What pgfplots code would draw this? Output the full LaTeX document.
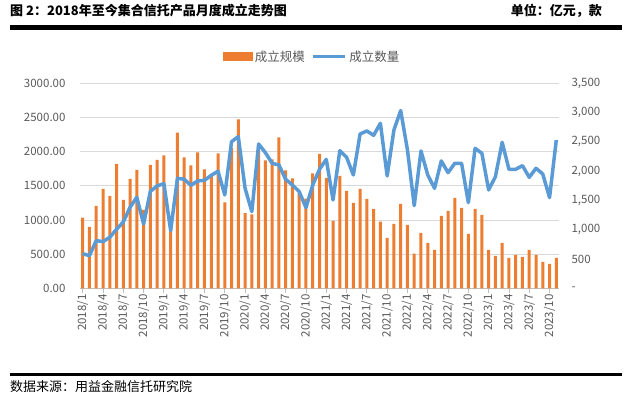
\documentclass[border=0pt]{standalone}
\usepackage{fontspec}
\setmainfont{Noto Sans CJK SC}
\usepackage{pgfplots}
\pgfplotsset{compat=1.18}
\usepackage{pgfplotstable}
\definecolor{barorange}{HTML}{ED7D31}
\definecolor{lineblue}{HTML}{5B9BD5}
\definecolor{txtgray}{HTML}{595959}
\definecolor{gridgray}{HTML}{D9D9D9}
\definecolor{axgray}{HTML}{BFBFBF}

\pgfplotstableread{
idx amt cnt
0 1034 590
1 898 558
2 1205 814
3 1454 797
4 1351 871
5 1820 1007
6 1293 1132
7 1600 1383
8 1732 1554
9 1146 1098
10 1805 1656
11 1878 1747
12 1945 1787
13 1060 985
14 2280 1878
15 1915 1861
16 1800 1759
17 1990 1833
18 1740 1844
19 1650 1929
20 1975 1998
21 1257 1593
22 2050 2504
23 2472 2589
24 1100 1707
25 1082 1309
26 2050 2464
27 1872 2316
28 1886 2134
29 2210 2106
30 1726 1861
31 1608 1764
32 1400 1650
33 1313 1377
34 1683 1764
35 1966 2032
36 1615 2202
37 985 1508
38 1644 2350
39 1424 2237
40 1249 1935
41 1454 2635
42 1307 2686
43 1161 2612
44 974 2817
45 737 1918
46 941 2703
47 1234 3035
48 927 2362
49 507 1411
50 810 2345
51 663 1935
52 561 1707
53 1059 2174
54 1132 1975
55 1322 2134
56 1176 2134
57 795 1463
58 1161 2390
59 1073 2305
60 561 1679
61 473 1906
62 663 2493
63 444 2032
64 488 2032
65 459 2094
66 561 1895
67 488 2049
68 385 1952
69 356 1548
70 444 2532
}\datatable

\begin{document}
\begin{tikzpicture}[x=1pt,y=1pt]
\useasboundingbox (0,0) rectangle (624,399);
% header
\node[anchor=west, inner sep=0pt, font=\fontsize{13}{16}\selectfont\bfseries] at (10,388.4) {图 2：2018年至今集合信托产品月度成立走势图};
\node[anchor=east, inner sep=0pt, font=\fontsize{13}{16}\selectfont\bfseries] at (602,388.4) {单位：亿元，款};
\draw[line width=4.5pt] (10,371.6) -- (622,371.6);
% footer
\draw[line width=2.7pt] (10,24.3) -- (622,24.3);
\node[anchor=west, inner sep=0pt, font=\fontsize{13}{15}\selectfont] at (10,12) {数据来源：用益金融信托研究院};

\begin{axis}[
  at={(80pt,110.7pt)}, anchor=south west,
  scale only axis, width=479pt, height=205pt,
  xmin=-0.4, xmax=70.4, ymin=0, ymax=3000,
  axis x line*=bottom, axis y line*=left,
  y axis line style={draw=none},
  x axis line style={draw=axgray, line width=0.8pt},
  ytick={0,500,1000,1500,2000,2500,3000},
  yticklabels={0.00,500.00,1000.00,1500.00,2000.00,2500.00,3000.00},
  ymajorgrids, grid style={draw=gridgray, line width=0.8pt},
  major y tick style={draw=none},
  xtick={0,3,...,69},
  xticklabels={2018/1,2018/4,2018/7,2018/10,2019/1,2019/4,2019/7,2019/10,2020/1,2020/4,2020/7,2020/10,2021/1,2021/4,2021/7,2021/10,2022/1,2022/4,2022/7,2022/10,2023/1,2023/4,2023/7,2023/10},
  x tick style={draw=axgray, line width=0.8pt},
  tick align=outside, major tick length=5pt,
  xticklabel style={rotate=90, anchor=east, font=\fontsize{11.5}{13}\selectfont, text=txtgray, inner sep=1pt},
  yticklabel style={font=\fontsize{11.5}{13}\selectfont, text=txtgray, xshift=-6pt},
  clip=false,
]
\addplot[ybar, bar width=3pt, fill=barorange, draw=none] table[x=idx, y=amt] {\datatable};
\end{axis}

\begin{axis}[
  at={(80pt,110.7pt)}, anchor=south west,
  scale only axis, width=479pt, height=205pt,
  xmin=-0.4, xmax=70.4, ymin=0, ymax=3500,
  axis x line=none, axis y line*=right,
  y axis line style={draw=none},
  ytick={0,500,1000,1500,2000,2500,3000,3500},
  yticklabels={{-},{500},{1,000},{1,500},{2,000},{2,500},{3,000},{3,500}},
  major y tick style={draw=none},
  yticklabel style={font=\fontsize{11.5}{13}\selectfont, text=txtgray, anchor=west, xshift=9pt},
  legend columns=2,
  legend style={draw=none, fill=none, at={(0.4854,1.1298)}, anchor=center,
    font=\fontsize{12.5}{14}\selectfont, text=txtgray,
    nodes={inner xsep=3pt, inner ysep=0pt},
    /tikz/every even column/.append style={column sep=3pt}},
  clip=false,
]
\addlegendimage{legend image code/.code={\fill[barorange] (0pt,-4pt) rectangle (29pt,4pt);}}
\addlegendentry{成立规模}
\addlegendimage{legend image code/.code={\draw[lineblue, line width=3.5pt] (0pt,0pt) -- (32pt,0pt);}}
\addlegendentry{成立数量}
\addplot[lineblue, line width=3.5pt, line join=round, mark=none] table[x=idx, y=cnt] {\datatable};
\end{axis}
\end{tikzpicture}
\end{document}
